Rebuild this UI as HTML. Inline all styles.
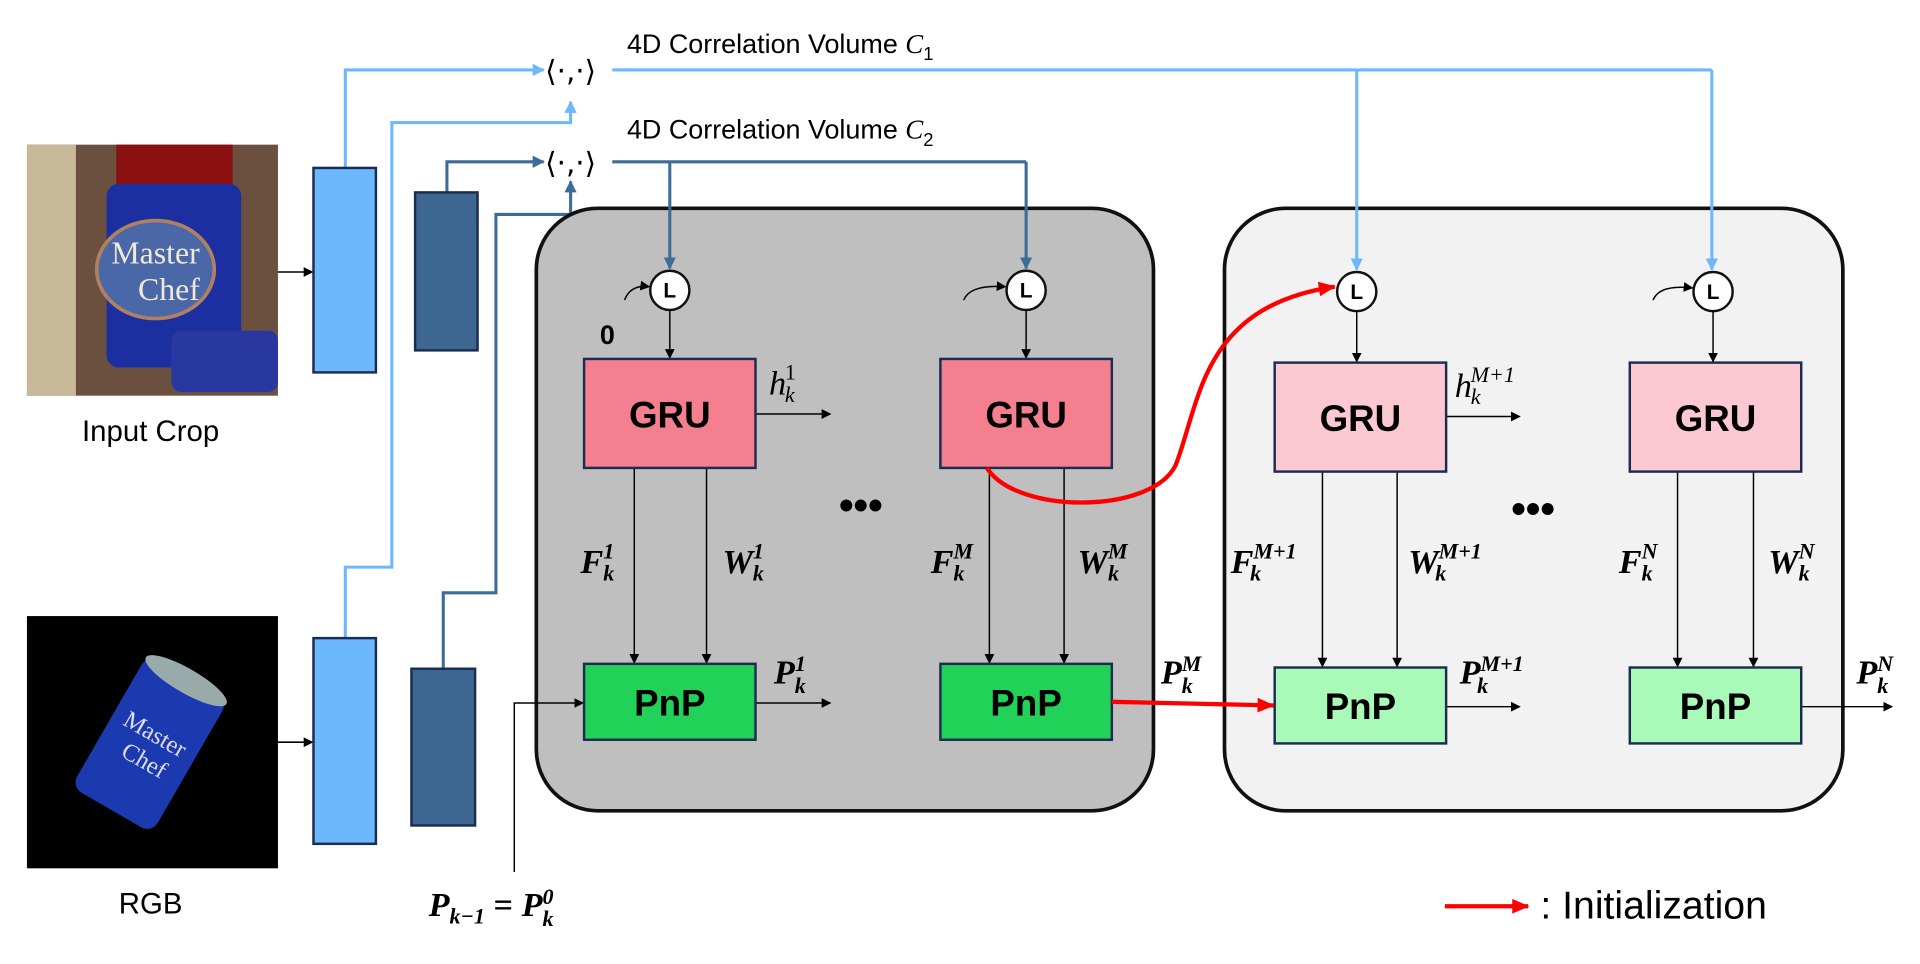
<!DOCTYPE html>
<html><head><meta charset="utf-8"><style>
html,body{margin:0;padding:0;background:#fff;width:1920px;height:964px;overflow:hidden}
svg{display:block}
text{font-family:"Liberation Sans",sans-serif}
.m text,text.m,.m tspan{font-family:"Liberation Serif",serif;font-style:italic;font-weight:bold}
</style></head><body>
<svg width="1920" height="964" viewBox="0 0 1568 787" xmlns="http://www.w3.org/2000/svg">
<defs>
<marker id="a" markerWidth="8" markerHeight="8" refX="7" refY="4" orient="auto" markerUnits="userSpaceOnUse"><path d="M0,0L8,4L0,8z" fill="#000"/></marker>
<marker id="lb" markerWidth="10" markerHeight="10" refX="9" refY="5" orient="auto" markerUnits="userSpaceOnUse"><path d="M0,0L10,5L0,10z" fill="#6cb8fc"/></marker>
<marker id="db" markerWidth="10" markerHeight="10" refX="9" refY="5" orient="auto" markerUnits="userSpaceOnUse"><path d="M0,0L10,5L0,10z" fill="#3d6c98"/></marker>
<marker id="r" markerWidth="14" markerHeight="12" refX="13" refY="6" orient="auto" markerUnits="userSpaceOnUse"><path d="M0,0L14,6L0,12z" fill="#f00"/></marker>
</defs>
<rect x="22" y="118" width="205" height="205" fill="#6b5040"/>
<rect x="22" y="118" width="40" height="205" fill="#c8b89a"/>
<rect x="95" y="118" width="95" height="40" fill="#8b1010"/>
<rect x="87" y="150" width="110" height="150" rx="10" fill="#1c2fa0"/>
<ellipse cx="127" cy="220" rx="48" ry="40" fill="#4a68a8" stroke="#b08060" stroke-width="3"/>
<text x="127" y="215" font-size="26" fill="#f0e8d8" text-anchor="middle" style="font-family:'Liberation Serif'">Master</text>
<text x="138" y="245" font-size="26" fill="#f0e8d8" text-anchor="middle" style="font-family:'Liberation Serif'">Chef</text>
<rect x="140" y="270" width="87" height="50" rx="8" fill="#2838a0"/>
<rect x="22" y="503" width="205" height="206" fill="#000"/>
<g transform="rotate(30 123 606)"><rect x="85" y="545" width="76" height="125" rx="10" fill="#1c3ab0"/><ellipse cx="123" cy="548" rx="38" ry="10" fill="#9aa"/><text x="123" y="605" font-size="20" fill="#dde" text-anchor="middle" style="font-family:'Liberation Serif'">Master</text><text x="126" y="628" font-size="20" fill="#dde" text-anchor="middle" style="font-family:'Liberation Serif'">Chef</text></g>
<text x="123" y="360" font-size="24" text-anchor="middle">Input Crop</text>
<text x="123" y="746" font-size="24" text-anchor="middle">RGB</text>
<line x1="227" y1="222" x2="255" y2="222" stroke="#000" stroke-width="1.3" marker-end="url(#a)"/>
<line x1="227" y1="606" x2="255" y2="606" stroke="#000" stroke-width="1.3" marker-end="url(#a)"/>
<polyline points="282,137 282,57 444,57" fill="none" stroke="#6cb8fc" stroke-width="2.5" marker-end="url(#lb)"/>
<polyline points="282,521 282,463 320,463 320,100 466,100 466,83" fill="none" stroke="#6cb8fc" stroke-width="2.5" marker-end="url(#lb)"/>
<polyline points="365,157 365,132 444,132" fill="none" stroke="#3d6c98" stroke-width="2.5" marker-end="url(#db)"/>
<polyline points="362,546 362,484 405,484 405,175 466,175 466,148" fill="none" stroke="#3d6c98" stroke-width="2.5" marker-end="url(#db)"/>
<rect x="256" y="137" width="51" height="167" fill="#6cb8fc" stroke="#1a2d50" stroke-width="2"/>
<rect x="256" y="521" width="51" height="168" fill="#6cb8fc" stroke="#1a2d50" stroke-width="2"/>
<rect x="339" y="157" width="51" height="129" fill="#3d6690" stroke="#1a2d50" stroke-width="2"/>
<rect x="336" y="546" width="52" height="128" fill="#3d6690" stroke="#1a2d50" stroke-width="2"/>
<text x="466" y="66" font-size="24" text-anchor="middle" style="font-family:'DejaVu Sans'">⟨·,·⟩</text>
<text x="466" y="141" font-size="24" text-anchor="middle" style="font-family:'DejaVu Sans'">⟨·,·⟩</text>
<text x="512" y="43" font-size="22">4D Correlation Volume <tspan style="font-family:'Liberation Serif';font-style:italic">C</tspan><tspan font-size="15" dy="6">1</tspan></text>
<text x="512" y="113" font-size="22">4D Correlation Volume <tspan style="font-family:'Liberation Serif';font-style:italic">C</tspan><tspan font-size="15" dy="6">2</tspan></text>
<rect x="438" y="170" width="504" height="492" rx="50" fill="#bfbfbf" stroke="#111" stroke-width="3"/>
<rect x="1000" y="170" width="505" height="492" rx="50" fill="#f2f2f2" stroke="#111" stroke-width="3"/>
<polyline points="500,57 1398,57" fill="none" stroke="#6cb8fc" stroke-width="2.5"/>
<line x1="1108" y1="57" x2="1108" y2="220" stroke="#6cb8fc" stroke-width="2.5" marker-end="url(#lb)"/>
<line x1="1398" y1="57" x2="1398" y2="220" stroke="#6cb8fc" stroke-width="2.5" marker-end="url(#lb)"/>
<polyline points="500,132 838,132" fill="none" stroke="#3d6c98" stroke-width="2.5"/>
<line x1="547" y1="132" x2="547" y2="219" stroke="#3d6c98" stroke-width="2.5" marker-end="url(#db)"/>
<line x1="838" y1="132" x2="838" y2="219" stroke="#3d6c98" stroke-width="2.5" marker-end="url(#db)"/>
<g font-size="17" font-weight="bold" text-anchor="middle">
<circle cx="547" cy="237" r="16" fill="#fff" stroke="#111" stroke-width="2"/><text x="547" y="243">L</text>
<circle cx="838" cy="237" r="16" fill="#fff" stroke="#111" stroke-width="2"/><text x="838" y="243">L</text>
<circle cx="1108" cy="238" r="16" fill="#fff" stroke="#111" stroke-width="2"/><text x="1108" y="244">L</text>
<circle cx="1399" cy="238" r="16" fill="#fff" stroke="#111" stroke-width="2"/><text x="1399" y="244">L</text>
</g>
<path d="M510,245 Q515,232 530,234" fill="none" stroke="#000" stroke-width="1.2" marker-end="url(#a)"/>
<path d="M787,245 Q792,232 821,234" fill="none" stroke="#000" stroke-width="1.2" marker-end="url(#a)"/>
<path d="M1350,245 Q1355,232 1382,235" fill="none" stroke="#000" stroke-width="1.2" marker-end="url(#a)"/>
<text x="496" y="281" font-size="22" font-weight="bold" text-anchor="middle">0</text>
<g stroke="#000" stroke-width="1.2" fill="none" marker-end="url(#a)">
<line x1="547" y1="253" x2="547" y2="292"/><line x1="838" y1="253" x2="838" y2="292"/>
<line x1="1108" y1="254" x2="1108" y2="295"/><line x1="1399" y1="254" x2="1399" y2="295"/>
<line x1="518" y1="382" x2="518" y2="541"/><line x1="577" y1="382" x2="577" y2="541"/>
<line x1="808" y1="382" x2="808" y2="541"/><line x1="869" y1="382" x2="869" y2="541"/>
<line x1="1080" y1="385" x2="1080" y2="544"/><line x1="1141" y1="385" x2="1141" y2="544"/>
<line x1="1370" y1="385" x2="1370" y2="544"/><line x1="1432" y1="385" x2="1432" y2="544"/>
<line x1="617" y1="338" x2="678" y2="338"/><line x1="1181" y1="340" x2="1241" y2="340"/>
<line x1="617" y1="574" x2="678" y2="574"/><line x1="1181" y1="577" x2="1241" y2="577"/>
<line x1="1471" y1="577" x2="1545" y2="577"/>
<polyline points="420,712 420,574 476,574"/>
</g>
<g font-size="30" font-weight="bold" text-anchor="middle">
<rect x="477" y="293" width="140" height="89" fill="#f4808f" stroke="#1a2d50" stroke-width="2"/><text x="547" y="349">GRU</text>
<rect x="768" y="293" width="140" height="89" fill="#f4808f" stroke="#1a2d50" stroke-width="2"/><text x="838" y="349">GRU</text>
<rect x="1041" y="296" width="140" height="89" fill="#fcc8d2" stroke="#1a2d50" stroke-width="2"/><text x="1111" y="352">GRU</text>
<rect x="1331" y="296" width="140" height="89" fill="#fcc8d2" stroke="#1a2d50" stroke-width="2"/><text x="1401" y="352">GRU</text>
<rect x="477" y="542" width="140" height="62" fill="#22d158" stroke="#1a2d50" stroke-width="2"/><text x="547" y="584">PnP</text>
<rect x="768" y="542" width="140" height="62" fill="#22d158" stroke="#1a2d50" stroke-width="2"/><text x="838" y="584">PnP</text>
<rect x="1041" y="545" width="140" height="62" fill="#a9f9b8" stroke="#1a2d50" stroke-width="2"/><text x="1111" y="587">PnP</text>
<rect x="1331" y="545" width="140" height="62" fill="#a9f9b8" stroke="#1a2d50" stroke-width="2"/><text x="1401" y="587">PnP</text>
</g>
<text x="703" y="424" font-size="34" font-weight="bold" text-anchor="middle">•••</text>
<text x="1252" y="427" font-size="34" font-weight="bold" text-anchor="middle">•••</text>
<path d="M806,382 C830,420 940,420 960,380 C980,330 980,250 1090,234" fill="none" stroke="#f00" stroke-width="3.5" marker-end="url(#r)"/>
<line x1="908" y1="573" x2="1040" y2="576" stroke="#f00" stroke-width="3.5" marker-end="url(#r)"/>
<line x1="1180" y1="740" x2="1248" y2="740" stroke="#f00" stroke-width="3.5" marker-end="url(#r)"/>
<text x="1258" y="750" font-size="32">: Initialization</text>
<g class="m" font-size="28">
<text x="628" y="322" style="font-weight:normal">h<tspan font-size="18" dy="-12" dx="-1" style="font-weight:normal;font-style:normal">1</tspan><tspan font-size="18" dy="18" dx="-9" style="font-weight:normal">k</tspan></text>
<text x="1188" y="324" style="font-weight:normal">h<tspan font-size="18" dy="-12" dx="-1" style="font-weight:normal">M+1</tspan><tspan font-size="18" dy="18" dx="-36" style="font-weight:normal">k</tspan></text>
<text x="474" y="468">F<tspan font-size="18" dy="-12">1</tspan><tspan font-size="18" dy="18" dx="-9">k</tspan></text>
<text x="590" y="468">W<tspan font-size="18" dy="-12">1</tspan><tspan font-size="18" dy="18" dx="-9">k</tspan></text>
<text x="760" y="468">F<tspan font-size="18" dy="-12">M</tspan><tspan font-size="18" dy="18" dx="-16">k</tspan></text>
<text x="880" y="468">W<tspan font-size="18" dy="-12">M</tspan><tspan font-size="18" dy="18" dx="-16">k</tspan></text>
<text x="1005" y="468">F<tspan font-size="18" dy="-12">M+1</tspan><tspan font-size="18" dy="18" dx="-38">k</tspan></text>
<text x="1150" y="468">W<tspan font-size="18" dy="-12">M+1</tspan><tspan font-size="18" dy="18" dx="-38">k</tspan></text>
<text x="1322" y="468">F<tspan font-size="18" dy="-12">N</tspan><tspan font-size="18" dy="18" dx="-13">k</tspan></text>
<text x="1444" y="468">W<tspan font-size="18" dy="-12">N</tspan><tspan font-size="18" dy="18" dx="-13">k</tspan></text>
<text x="632" y="558">P<tspan font-size="18" dy="-10">1</tspan><tspan font-size="18" dy="18" dx="-9">k</tspan></text>
<text x="948" y="558">P<tspan font-size="18" dy="-10">M</tspan><tspan font-size="18" dy="18" dx="-16">k</tspan></text>
<text x="1192" y="558">P<tspan font-size="18" dy="-10">M+1</tspan><tspan font-size="18" dy="18" dx="-38">k</tspan></text>
<text x="1516" y="558">P<tspan font-size="18" dy="-10">N</tspan><tspan font-size="18" dy="18" dx="-13">k</tspan></text>
<text x="350" y="748">P<tspan font-size="18" dy="6">k−1</tspan><tspan dy="-6" style="font-style:normal"> = </tspan>P<tspan font-size="18" dy="-10">0</tspan><tspan font-size="18" dy="18" dx="-9">k</tspan></text>
</g>
</svg>
</body></html>
